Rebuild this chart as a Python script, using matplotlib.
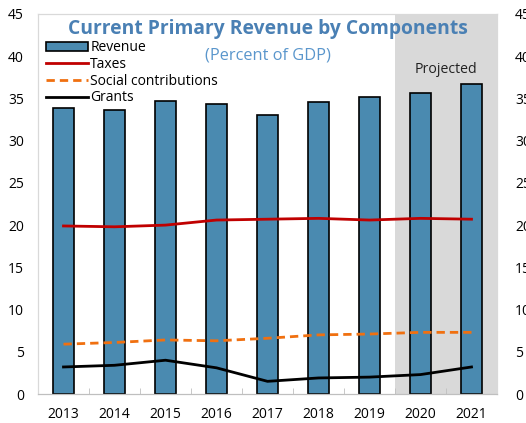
import matplotlib
matplotlib.use("Agg")
import matplotlib.pyplot as plt
import numpy as np

years = ["2013", "2014", "2015", "2016", "2017", "2018", "2019", "2020", "2021"]
revenue = [33.9, 33.6, 34.7, 34.4, 33.0, 34.6, 35.2, 35.6, 36.7]
taxes = [19.9, 19.8, 20.0, 20.6, 20.7, 20.8, 20.6, 20.8, 20.7]
social = [5.9, 6.1, 6.4, 6.3, 6.6, 7.0, 7.1, 7.3, 7.3]
grants = [3.2, 3.4, 4.0, 3.1, 1.5, 1.9, 2.0, 2.3, 3.2]
yticks = [0, 5, 10, 15, 20, 25, 30, 35, 40, 45]

plt.rcParams['font.family'] = ['Open Sans', 'DejaVu Sans']

fig = plt.figure(figsize=(5.26, 4.23), dpi=100)
ax = fig.add_axes([38/526, 29/423, 459/526, 380/423])
x = np.arange(len(years))

ax.axvspan(6.5, 8.5, color='#d9d9d9', zorder=0, lw=0)
b = ax.bar(x, revenue, width=0.41, color='#4a8ab0', edgecolor='black', linewidth=1.2, label='Revenue', zorder=2)
l1, = ax.plot(x, taxes, color='#c00000', lw=2, label='Taxes', zorder=3)
l2, = ax.plot(x, social, color='#f07010', lw=2, ls=(0, (3, 1.8)), label='Social contributions', zorder=3)
l3, = ax.plot(x, grants, color='black', lw=2, label='Grants', zorder=3)

ax.set_xlim(-0.5, 8.5)
ax.set_ylim(0, 45)
ax.set_xticks(x)
ax.set_xticklabels(years, fontsize=10)
ax.set_xticks(np.arange(-0.5, 8.6, 1), minor=True)
ax.tick_params(axis='x', which='major', length=0, pad=9)
ax.tick_params(axis='x', which='minor', length=4, direction='in', color='#bfbfbf')
ax.set_yticks(yticks)
ax.tick_params(axis='y', length=0, labelsize=10, pad=10)

ax2 = ax.twinx()
ax2.set_ylim(0, 45)
ax2.set_yticks(yticks)
ax2.tick_params(axis='y', length=0, labelsize=10, pad=13)

for a in (ax, ax2):
    for s in ['top', 'left', 'right']:
        a.spines[s].set_color('#d9d9d9')
    a.spines['bottom'].set_color('#bfbfbf')

ax.text(4, 43.2, 'Current Primary Revenue by Components', ha='center', va='center',
        fontsize=13.9, fontweight='bold', color='#4a80b4', zorder=5)
ax.text(4, 40.1, '(Percent of GDP)', ha='center', va='center', fontsize=11.8,
        color='#5a96cc', zorder=5)
ax.text(7.5, 38.4, 'Projected', ha='center', va='center', fontsize=10.2, color='#222222')

leg = ax.legend([b, l1, l2, l3], ['Revenue', 'Taxes', 'Social contributions', 'Grants'],
                loc='upper left', bbox_to_anchor=(0.005, 0.945), frameon=False, fontsize=10,
                handlelength=3.0, handletextpad=0.2, labelspacing=0.12, borderaxespad=0)
fig.savefig('out.png', dpi=100)
